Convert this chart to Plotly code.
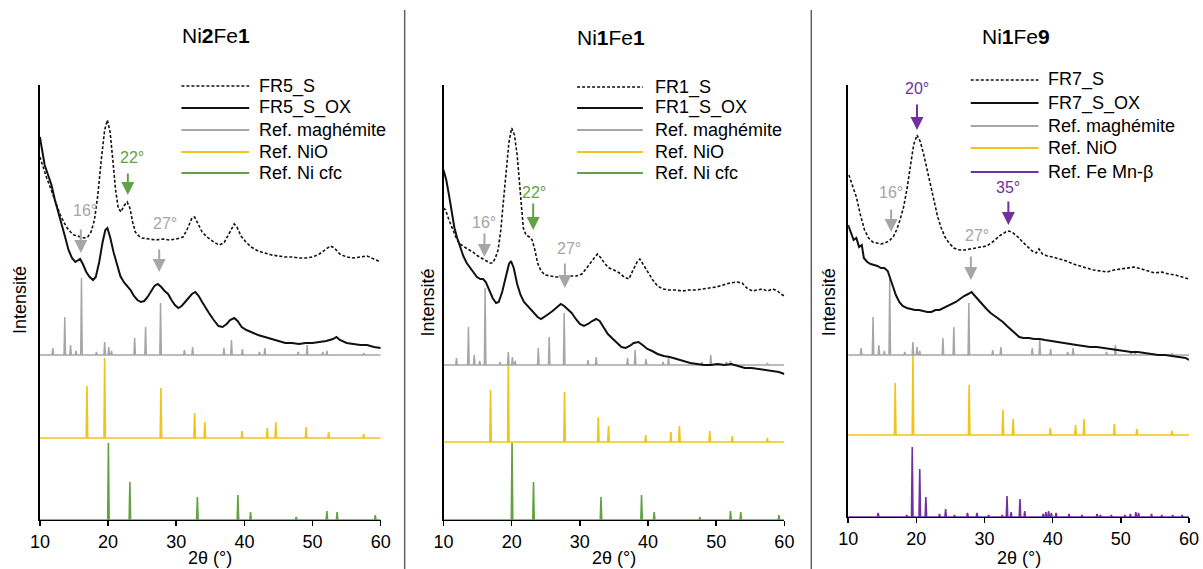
import plotly.graph_objects as go

W, H = 1203, 569

# ---------------- DATA ----------------
# Reference stick patterns (2theta position, relative intensity)
magh_pos = [11.9, 13.65, 14.5, 15.3, 16.1, 18.3, 19.5, 20.1, 20.5, 23.9, 25.5, 27.7, 31.2, 32.4,
            37.0, 38.1, 39.7, 42.2, 43.0, 47.9, 49.2, 51.5, 52.1, 57.5]
magh_int = [7, 38, 10, 4, 77, 3, 13, 8, 4, 17, 28, 52, 5, 8, 7, 15, 6, 3, 7, 3, 10, 3, 4, 2]

nio_pos = [16.9, 19.5, 27.75, 32.7, 34.2, 39.65, 43.35, 44.6, 49.05, 52.35, 57.5]
nio_int = [52, 80, 50, 25, 16, 7, 10, 16, 11, 6, 4]

nicfc_pos = [20.05, 23.2, 33.1, 39.05, 40.9, 47.6, 52.1, 53.6, 59.2]
nicfc_int = [77, 38, 23, 25, 8, 3, 9, 8, 5]

femn_pos = [14.4, 18.6, 19.4, 20.5, 21.4, 23.4, 24.3, 25.6, 27.5, 28.9, 30.6, 32.6, 33.3, 33.9, 35.2,
            35.9, 38.6, 39.0, 39.4, 39.8, 40.5, 42.4, 44.3, 46.5, 47.0, 48.6, 50.6, 51.4, 52.2, 52.6,
            54.5, 56.0, 57.6, 59.0]
femn_int = [4, 2, 70, 48, 20, 3, 8, 2, 4, 4, 2, 2, 21, 5, 18, 6, 3, 5, 6, 4, 4, 3, 2, 3, 2, 2, 2, 3,
            5, 4, 3, 2, 2, 2]

# Stacking offsets of the reference patterns in each panel
off_p1 = {"magh": 165, "nio": 82, "low": 0}
off_p2 = {"magh": 155, "nio": 78, "low": 0}
off_p3 = {"magh": 162, "nio": 82, "low": 0}

# Experimental patterns (stacked intensity, arbitrary units)
fr5s_x = [10.0, 10.5, 11.0, 11.5, 12.0, 12.5, 13.0, 13.5, 14.0, 14.5, 15.0, 15.5, 16.0, 16.5, 17.0,
          17.5, 18.0, 18.5, 19.0, 19.5, 19.9, 20.3, 20.7, 21.1, 21.5, 21.9, 22.3, 22.8, 23.2, 23.6,
          24.0, 24.5, 25.0, 26.0, 27.0, 28.0, 29.0, 30.0, 31.0, 31.7, 32.3, 32.7, 33.2, 33.8, 34.5,
          35.5, 36.3, 37.0, 37.8, 38.5, 38.9, 39.5, 40.2, 41.0, 42.0, 43.0, 44.0, 45.0, 46.0, 47.0,
          48.0, 49.0, 50.0, 51.0, 52.0, 52.6, 53.2, 54.0, 55.0, 56.0, 57.0, 58.0, 59.0, 60.0]
fr5s_y = [363, 352, 342, 333, 323, 314, 305, 298, 292, 288, 285, 284, 283, 282, 283,
          288, 300, 325, 360, 390, 400, 388, 360, 330, 312, 308, 314, 318, 312, 298,
          288, 284, 282, 281, 280, 281, 280, 281, 283, 292, 302, 303, 296, 288, 283,
          278, 275, 277, 287, 296, 293, 284, 278, 273, 269, 267, 265, 264, 263, 263,
          262, 262, 263, 266, 271, 274, 272, 266, 263, 262, 263, 264, 261, 258]

fr5ox_x = [10.0, 10.3, 10.7, 11.2, 11.7, 12.2, 12.7, 13.2, 13.7, 14.2, 14.7, 15.2, 15.6, 15.9, 16.3,
           16.8, 17.3, 17.8, 18.2, 18.7, 19.2, 19.6, 19.9, 20.3, 20.8, 21.3, 21.8, 22.3, 22.8, 23.3,
           23.8, 24.3, 24.8, 25.3, 25.8, 26.3, 26.8, 27.3, 27.8, 28.3, 28.8, 29.3, 29.8, 30.3, 30.8,
           31.3, 31.8, 32.3, 32.8, 33.3, 33.8, 34.3, 34.8, 35.5, 36.2, 36.8, 37.4, 37.9, 38.5, 39.0,
           39.6, 40.3, 41.0, 42.0, 43.0, 44.0, 45.0, 46.0, 47.0, 48.0, 49.0, 50.0, 51.0, 52.0, 53.0,
           53.5, 54.0, 55.0, 56.0, 57.0, 58.0, 59.0, 60.0]
fr5ox_y = [383, 370, 355, 345, 335, 320, 308, 297, 283, 270, 262, 258, 260, 261, 256,
           248, 243, 240, 243, 258, 278, 290, 292, 283, 268, 255, 244, 238, 234, 230,
           224, 220, 218, 219, 223, 229, 234, 236, 233, 229, 226, 220, 215, 212, 214,
           218, 222, 226, 228, 224, 218, 212, 207, 200, 194, 193, 196, 200, 202, 199,
           193, 190, 188, 185, 183, 181, 179, 177, 177, 176, 177, 177, 178, 179, 181,
           183, 180, 177, 176, 175, 175, 173, 172]

fr1s_x = [10.0, 10.3, 10.8, 11.3, 11.8, 12.3, 12.8, 13.3, 13.8, 14.3, 14.8, 15.3, 15.8, 16.3, 16.8,
          17.2, 17.6, 18.0, 18.4, 18.8, 19.2, 19.6, 20.0, 20.4, 20.8, 21.1, 21.4, 21.7, 22.1, 22.6,
          23.0, 23.4, 23.8, 24.3, 24.9, 25.5, 26.5, 27.5, 28.5, 29.5, 30.3, 31.0, 31.6, 32.1, 32.6,
          33.1, 33.7, 34.3, 35.0, 35.8, 36.5, 37.2, 37.8, 38.4, 38.8, 39.4, 40.0, 40.7, 41.4, 42.2,
          43.0, 44.0, 45.0, 46.0, 47.0, 48.0, 49.0, 50.0, 51.0, 52.0, 53.0, 53.8, 54.5, 55.3, 56.0,
          56.8, 57.5, 58.3, 59.0, 59.5, 60.0]
fr1s_y = [312, 310, 300, 292, 283, 277, 274, 272, 270, 268, 265, 263, 261, 259, 257,
          257, 262, 270, 290, 320, 350, 378, 392, 385, 365, 340, 310, 292, 285, 283,
          280, 270, 257, 249, 245, 244, 243, 243, 244, 244, 246, 252, 258, 262, 266,
          262, 256, 252, 250, 247, 243, 241, 250, 258, 261, 254, 248, 240, 234, 231,
          230, 230, 229, 230, 230, 231, 232, 233, 235, 237, 238, 237, 232, 229, 230,
          231, 229, 231, 229, 226, 224]

fr1ox_x = [10.0, 10.4, 10.8, 11.2, 11.6, 12.0, 12.4, 12.9, 13.4, 13.9, 14.4, 14.9, 15.4, 15.8, 16.2,
           16.7, 17.2, 17.7, 18.1, 18.6, 19.1, 19.6, 19.9, 20.3, 20.8, 21.3, 21.8, 22.3, 22.8, 23.3,
           23.8, 24.3, 24.8, 25.4, 26.0, 26.6, 27.2, 27.7, 28.2, 28.8, 29.4, 30.0, 30.6, 31.2, 31.8,
           32.4, 32.9, 33.5, 34.1, 34.7, 35.4, 36.1, 36.7, 37.3, 37.9, 38.6, 39.2, 39.9, 40.6, 41.4,
           42.3, 43.2, 44.2, 45.2, 46.2, 47.2, 48.2, 49.2, 50.2, 51.2, 52.2, 53.2, 54.2, 55.2, 56.2,
           57.2, 58.2, 59.2, 60.0]
fr1ox_y = [350, 340, 325, 308, 292, 282, 274, 264, 257, 252, 247, 243, 241, 241, 238,
           230, 222, 217, 218, 228, 243, 256, 259, 252, 236, 225, 218, 214, 211, 207,
           203, 201, 203, 206, 209, 213, 216, 214, 211, 207, 201, 196, 194, 196, 199,
           201, 199, 192, 186, 182, 177, 173, 172, 174, 177, 178, 175, 171, 169, 166,
           164, 163, 161, 159, 157, 156, 155, 155, 156, 155, 156, 154, 152, 152, 151,
           150, 149, 148, 146]

fr7s_x = [10.1, 10.6, 11.2, 11.8, 12.4, 13.0, 13.6, 14.2, 14.8, 15.4, 16.0, 16.6, 17.1, 17.6, 18.1,
          18.6, 19.1, 19.6, 20.1, 20.6, 21.1, 21.6, 22.1, 22.6, 23.1, 23.6, 24.2, 24.8, 25.5, 26.3,
          27.1, 27.9, 28.7, 29.5, 30.3, 31.0, 31.7, 32.4, 33.1, 33.6, 34.2, 34.9, 35.6, 36.3, 37.0,
          37.6, 38.0, 38.5, 39.2, 40.0, 41.0, 42.0, 43.0, 44.0, 45.0, 46.0, 47.0, 48.0, 49.0, 50.0,
          51.0, 52.0, 53.0, 54.0, 55.0, 56.0, 57.0, 58.0, 59.0, 60.0]
fr7s_y = [342, 332, 320, 302, 287, 279, 275, 274, 273, 274, 276, 280, 287, 297, 309,
          327, 349, 372, 382, 375, 362, 347, 329, 314, 301, 290, 280, 274, 269, 267,
          267, 268, 269, 270, 271, 274, 278, 282, 285, 286, 284, 280, 275, 270, 266,
          264, 268, 263, 261, 260, 258, 256, 253, 251, 249, 247, 246, 245, 247, 248,
          249, 250, 248, 246, 244, 245, 243, 242, 240, 238]

fr7ox_x = [10.0, 10.4, 10.8, 11.2, 11.6, 12.0, 12.3, 12.8, 13.3, 13.8, 14.3, 14.8, 15.3, 15.8, 16.2,
           16.6, 17.0, 17.5, 18.0, 18.6, 19.2, 19.8, 20.4, 21.0, 21.6, 22.2, 22.8, 23.4, 24.0, 24.6,
           25.2, 25.8, 26.4, 27.0, 27.6, 28.1, 28.6, 29.1, 29.7, 30.3, 30.9, 31.5, 32.1, 32.7, 33.3,
           33.9, 34.5, 35.1, 35.7, 36.5, 37.3, 38.1, 38.9, 39.7, 40.5, 41.5, 42.5, 43.5, 44.5, 45.5,
           46.5, 47.5, 48.5, 49.5, 50.5, 51.5, 52.5, 53.5, 54.5, 55.5, 56.5, 57.5, 58.5, 59.5, 60.0]
fr7ox_y = [292, 285, 277, 279, 270, 272, 259, 255, 253, 252, 251, 249, 249, 246, 239,
           230, 222, 215, 211, 209, 208, 207, 207, 206, 205, 205, 207, 207, 209, 211,
           213, 215, 218, 221, 223, 225, 221, 217, 212, 208, 204, 201, 198, 195, 191,
           187, 183, 180, 179, 179, 178, 178, 177, 176, 175, 174, 173, 172, 171, 170,
           170, 169, 168, 167, 166, 165, 165, 164, 163, 162, 162, 161, 160, 159, 157]

x_ticks = [10, 20, 30, 40, 50, 60]
titles = ["Ni<b>2</b>Fe<b>1</b>", "Ni<b>1</b>Fe<b>1</b>", "Ni<b>1</b>Fe<b>9</b>"]
legend_p1 = ["FR5_S", "FR5_S_OX", "Ref. maghémite", "Ref. NiO", "Ref. Ni cfc"]
legend_p2 = ["FR1_S", "FR1_S_OX", "Ref. maghémite", "Ref. NiO", "Ref. Ni cfc"]
legend_p3 = ["FR7_S", "FR7_S_OX", "Ref. maghémite", "Ref. NiO", "Ref. Fe Mn-β"]

# ---------------- STYLE ----------------
FONT = "Arial, Liberation Sans, sans-serif"
C_BLACK = "#111111"
C_GREY = "#a6a6a6"
C_NIO = "#f2c318"
C_NI = "#62a244"
C_FEMN = "#7030a0"

panels = [
    dict(x0=38, x1=380, ytop=85, ybot=520),
    dict(x0=443, x1=785, ytop=85, ybot=520),
    dict(x0=849, x1=1191, ytop=85, ybot=517),
]

# horizontal compensation observed in the capture (page appears squeezed ~1.3 % about its centre)
SQ, SQ_OFF = 0.9867, 8.0


def PX(x):
    return ((x - SQ_OFF) / SQ) / W


def PY(y):
    return 1 - y / H


def sticks(pos, hts, base, hw=0.11):
    xs, ys = [10.0], [base]
    for p, h in sorted(zip(pos, hts)):
        xs += [p - hw, p, p + hw]
        ys += [base, base + h, base]
    xs.append(60.0)
    ys.append(base)
    return xs, ys


fig = go.Figure()

panel_data = [
    dict(off=off_p1, low=(nicfc_pos, nicfc_int, C_NI), s=(fr5s_x, fr5s_y), ox=(fr5ox_x, fr5ox_y),
         legend=legend_p1),
    dict(off=off_p2, low=(nicfc_pos, nicfc_int, C_NI), s=(fr1s_x, fr1s_y), ox=(fr1ox_x, fr1ox_y),
         legend=legend_p2),
    dict(off=off_p3, low=(femn_pos, femn_int, C_FEMN), s=(fr7s_x, fr7s_y), ox=(fr7ox_x, fr7ox_y),
         legend=legend_p3),
]

for i, (pn, pdat) in enumerate(zip(panels, panel_data)):
    sx = "" if i == 0 else str(i + 1)
    xa, ya = "x" + sx, "y" + sx
    off = pdat["off"]
    # references
    lx, ly = sticks(pdat["low"][0], pdat["low"][1], off["low"])
    fig.add_trace(go.Scatter(x=lx, y=ly, mode="lines", line=dict(color=pdat["low"][2], width=1.6),
                             xaxis=xa, yaxis=ya, showlegend=False))
    nx, ny = sticks(nio_pos, nio_int, off["nio"])
    fig.add_trace(go.Scatter(x=nx, y=ny, mode="lines", line=dict(color=C_NIO, width=1.6),
                             xaxis=xa, yaxis=ya, showlegend=False))
    mx, my = sticks(magh_pos, magh_int, off["magh"])
    fig.add_trace(go.Scatter(x=mx, y=my, mode="lines", line=dict(color=C_GREY, width=1.5),
                             xaxis=xa, yaxis=ya, showlegend=False))
    # experimental
    fig.add_trace(go.Scatter(x=pdat["ox"][0], y=pdat["ox"][1], mode="lines",
                             line=dict(color=C_BLACK, width=2), xaxis=xa, yaxis=ya, showlegend=False))
    fig.add_trace(go.Scatter(x=pdat["s"][0], y=pdat["s"][1], mode="lines",
                             line=dict(color=C_BLACK, width=1.6, dash="3px,2px"),
                             xaxis=xa, yaxis=ya, showlegend=False))

    fig.update_layout(**{
        "xaxis" + sx: dict(domain=[PX(pn["x0"]), PX(pn["x1"])], range=[10, 60], anchor=ya,
                           tickvals=x_ticks, ticks="outside", ticklen=5, tickwidth=1.5, tickcolor="black",
                           ticklabelstandoff=0,
                           showline=True, linecolor="black", linewidth=1, showgrid=False, zeroline=False,
                           layer="below traces", tickfont=dict(size=18, color="black", family=FONT)),
        "yaxis" + sx: dict(domain=[PY(pn["ybot"]), PY(pn["ytop"])], range=[0, pn["ybot"] - pn["ytop"]],
                           anchor=xa, showline=True, linecolor="black", linewidth=2, showgrid=False,
                           zeroline=False, showticklabels=False, ticks="", layer="below traces"),
    })

annotations = []
shapes = []

# titles, axis titles
title_pos = [(215, 36), (611, 38), (1017, 37)]
for t, (tx, ty) in zip(titles, title_pos):
    annotations.append(dict(x=PX(tx), y=PY(ty), xref="paper", yref="paper", text=t, showarrow=False,
                            font=dict(size=21, color="black", family=FONT), xanchor="center", yanchor="middle"))
for cx in [209, 614, 1020]:
    annotations.append(dict(x=PX(cx), y=PY(558), xref="paper", yref="paper", text="2θ (°)", showarrow=False,
                            font=dict(size=18, color="black", family=FONT), xanchor="center", yanchor="middle",
                            borderpad=0))
for (ix, iy) in [(18, 300), (427, 303), (830, 302)]:
    annotations.append(dict(x=PX(ix), y=PY(iy), xref="paper", yref="paper", text="Intensité", showarrow=False,
                            textangle=-90, font=dict(size=18, color="black", family=FONT),
                            xanchor="center", yanchor="middle"))

# legends (drawn manually)
leg_geo = [
    dict(l0=180, l1=248, tx=256, rows=[86, 108, 130, 152, 173]),
    dict(l0=577, l1=643, tx=653, rows=[87, 108, 130, 152, 173]),
    dict(l0=972, l1=1040, tx=1048, rows=[80, 103, 126, 148, 172]),
]
for g, pdat in zip(leg_geo, panel_data):
    styles = [dict(color=C_BLACK, width=1.5, dash="3px,2px"), dict(color=C_BLACK, width=2),
              dict(color=C_GREY, width=2), dict(color=C_NIO, width=2), dict(color=pdat["low"][2], width=2)]
    for txt, ry, st in zip(pdat["legend"], g["rows"], styles):
        shapes.append(dict(type="line", xref="paper", yref="paper", x0=PX(g["l0"]), x1=PX(g["l1"]),
                           y0=PY(ry), y1=PY(ry), line=st))
        annotations.append(dict(x=PX(g["tx"]), y=PY(ry), xref="paper", yref="paper", text=txt,
                                showarrow=False, xanchor="left", yanchor="middle",
                                font=dict(size=18, color="black", family=FONT)))

# peak markers: (axis suffix, label, label x, label y, arrow x, arrow tip y, arrow length px, colour)
markers = [
    ("", "16°", 16.6, 310, 16.0, 267, 25, C_GREY),
    ("", "22°", 23.45, 363, 22.9, 325, 23, C_NI),
    ("", "27°", 28.3, 297, 27.5, 248, 24, C_GREY),
    ("2", "16°", 16.0, 298, 16.0, 263, 25, C_GREY),
    ("2", "22°", 23.3, 328, 23.15, 290, 28, C_NI),
    ("2", "27°", 28.4, 272, 27.8, 232, 26, C_GREY),
    ("3", "20°", 20.1, 429, 20.1, 387, 27, C_FEMN),
    ("3", "16°", 16.3, 325, 16.3, 285, 24, C_GREY),
    ("3", "35°", 33.5, 330, 33.5, 292, 25, C_FEMN),
    ("3", "27°", 28.9, 282, 28.0, 237, 25, C_GREY),
]
for sx, lab, lx, ly, axx, tip, ln, col in markers:
    annotations.append(dict(x=lx, y=ly, xref="x" + sx, yref="y" + sx, text=lab, showarrow=False,
                            font=dict(size=16, color=col, family=FONT), xanchor="center", yanchor="middle"))
    annotations.append(dict(x=axx, y=tip, xref="x" + sx, yref="y" + sx, text="", showarrow=True,
                            ax=0, ay=-ln, arrowhead=2, arrowsize=1.3, arrowwidth=2, arrowcolor=col))

# panel separators
for sxp in [404, 812]:
    shapes.append(dict(type="line", xref="paper", yref="paper", x0=PX(sxp), x1=PX(sxp), y0=PY(10), y1=PY(569),
                       line=dict(color="#606060", width=1.5)))

fig.update_layout(width=W, height=H, margin=dict(l=0, r=0, t=0, b=0), paper_bgcolor="white",
                  plot_bgcolor="white", showlegend=False, annotations=annotations, shapes=shapes,
                  hovermode=False, font=dict(family=FONT, color="black"))

# remove the page's default 8px body margin so the figure sits at the window origin
fig.write_html("out.html", config={"displayModeBar": False, "staticPlot": True},
               post_script="document.body.style.margin='0px';document.body.style.overflow='hidden';")
